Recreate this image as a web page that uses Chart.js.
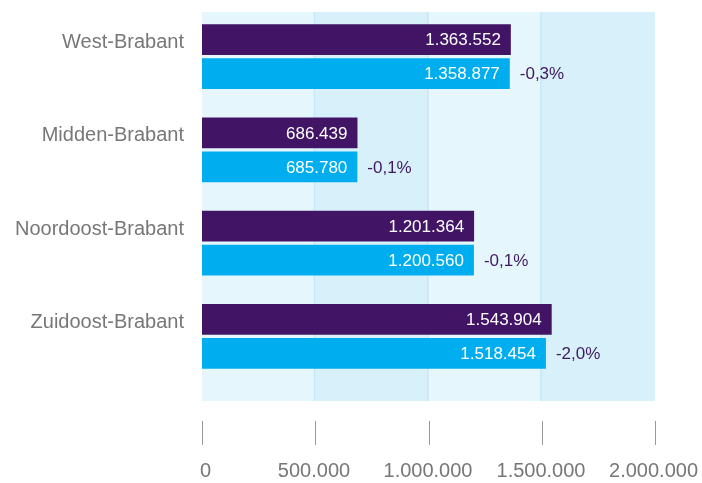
<!DOCTYPE html>
<html>
<head>
<meta charset="utf-8">
<script src="https://cdn.jsdelivr.net/npm/chart.js@4/dist/chart.umd.min.js"></script>
<style>
  html, body { margin: 0; padding: 0; background: #ffffff; }
  #wrap { width: 702px; height: 483px; position: relative; }
</style>
</head>
<body>
<div id="wrap"><canvas id="c" width="702" height="483"></canvas></div>
<script>
const categories = ['West-Brabant', 'Midden-Brabant', 'Noordoost-Brabant', 'Zuidoost-Brabant'];
const seriesPurple = [1363552, 686439, 1201364, 1543904];
const seriesBlue = [1358877, 685780, 1200560, 1518454];
const changeLabels = ['-0,3%', '-0,1%', '-0,1%', '-2,0%'];
const xTicks = [0, 500000, 1000000, 1500000, 2000000];

const FONT = '"Liberation Sans", Arial, Helvetica, sans-serif';

function fmt(v) {
  return String(Math.round(v)).replace(/\B(?=(\d{3})+(?!\d))/g, '.');
}

const decorPlugin = {
  id: 'decor',
  beforeDatasetsDraw(chart) {
    const { ctx, chartArea: a, scales: { x } } = chart;
    const top = a.top + 2, bottom = a.bottom + 18;
    ctx.save();
    for (let i = 0; i < xTicks.length - 1; i++) {
      const x0 = x.getPixelForValue(xTicks[i]);
      const x1 = x.getPixelForValue(xTicks[i + 1]);
      ctx.fillStyle = i % 2 ? '#d8f0fa' : '#e6f6fd';
      ctx.fillRect(x0, top, x1 - x0, bottom - top);
    }
    ctx.fillStyle = '#c4e8f7';
    for (let i = 1; i < xTicks.length - 1; i++) {
      const px = x.getPixelForValue(xTicks[i]);
      ctx.fillRect(px - 1.5, top, 1.5, bottom - top);
    }
    ctx.restore();
  },
  afterDraw(chart) {
    const { ctx, scales: { x } } = chart;
    ctx.save();
    ctx.strokeStyle = '#9a9a9a';
    ctx.lineWidth = 1;
    ctx.font = '20px ' + FONT;
    ctx.fillStyle = '#777777';
    ctx.textBaseline = 'alphabetic';
    ctx.textAlign = 'left';
    xTicks.forEach(v => {
      const px = Math.round(x.getPixelForValue(v)) + 0.5;
      ctx.beginPath();
      ctx.moveTo(px, 421);
      ctx.lineTo(px, 445);
      ctx.stroke();
      const label = fmt(v);
      const w = ctx.measureText(label).width;
      let lx = px - 1.5 - w / 2;
      if (lx < 200) lx = 200;
      if (lx + w > 698) lx = 698 - w;
      ctx.fillText(label, lx, 477);
    });
    ctx.font = '17px ' + FONT;
    ctx.textBaseline = 'middle';
    [0, 1].forEach(di => {
      const meta = chart.getDatasetMeta(di);
      const vals = di === 0 ? seriesPurple : seriesBlue;
      meta.data.forEach((el, j) => {
        ctx.fillStyle = '#ffffff';
        ctx.textAlign = 'right';
        ctx.fillText(fmt(vals[j]), el.x - 10, el.y + 1);
        if (di === 1) {
          ctx.fillStyle = '#3d1a5e';
          ctx.textAlign = 'left';
          ctx.fillText(changeLabels[j], el.x + 10, el.y + 1);
        }
      });
    });
    ctx.restore();
  }
};

new Chart(document.getElementById('c'), {
  type: 'bar',
  data: {
    labels: categories,
    datasets: [
      {
        data: seriesPurple,
        backgroundColor: '#421466',
        borderWidth: 0,
        categoryPercentage: 0.729,
        barPercentage: 0.91
      },
      {
        data: seriesBlue,
        backgroundColor: '#00aeef',
        borderWidth: 0,
        categoryPercentage: 0.729,
        barPercentage: 0.91
      }
    ]
  },
  options: {
    indexAxis: 'y',
    responsive: false,
    animation: false,
    devicePixelRatio: 1,
    layout: { padding: { left: 0, right: 47, top: 10, bottom: 0 } },
    plugins: {
      legend: { display: false },
      tooltip: { enabled: false }
    },
    scales: {
      x: {
        min: 0,
        max: 2000000,
        ticks: { display: false, stepSize: 500000 },
        grid: { display: false, drawTicks: false },
        border: { display: false },
        afterFit(scale) {
          scale.height = 100;
          scale.paddingLeft = 0; scale.paddingRight = 0;
        }
      },
      y: {
        ticks: {
          color: '#777777',
          font: { family: FONT, size: 20 },
          padding: 18,
          labelOffset: -14
        },
        grid: { display: false, drawTicks: false },
        border: { display: false },
        afterFit(scale) {
          scale.width = 202;
          scale.paddingTop = 0; scale.paddingBottom = 0;
        }
      }
    }
  },
  plugins: [decorPlugin]
});
</script>
</body>
</html>
